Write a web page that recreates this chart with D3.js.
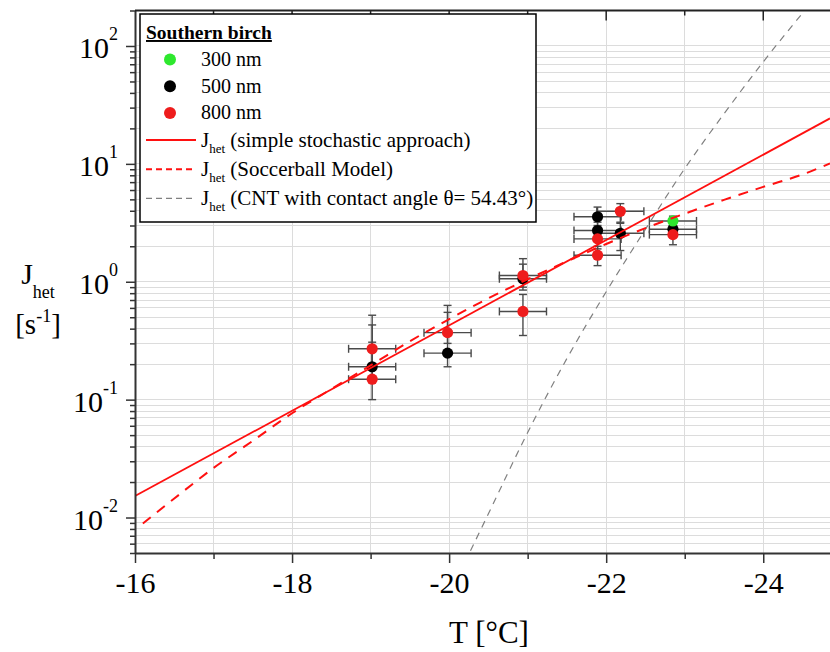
<!DOCTYPE html>
<html lang="en">
<head>
<meta charset="utf-8">
<style>
  body { margin: 0; background: #fff; }
  svg text { font-family: "Liberation Serif", "Times New Roman", serif; fill: #000; }
  .grid line { stroke: #dcdcdc; stroke-width: 1; shape-rendering: crispEdges; }
  .axis path, .axis line { stroke: #333; }
</style>
<script src="https://cdn.jsdelivr.net/npm/d3@7"></script>
</head>
<body>
<script>
// ---- data ----
const xTicks = [-16, -17, -18, -19, -20, -21, -22, -23, -24];
const yDecades = [0.01, 0.1, 1, 10, 100];
const yDecadeLabels = ["-2", "-1", "0", "1", "2"];

const tempErr = 0.3;

const t300 = [-22.85];
const j300 = [3.28];
const lo300 = [2.95];
const hi300 = [3.6];

const t500 = [-19.02, -19.98, -20.94, -21.89, -21.89, -22.18, -22.85];
const j500 = [0.19, 0.248, 1.06, 3.56, 2.72, 2.58, 2.79];
const lo500 = [0.15, 0.19, 0.85, 3.0, 2.3, 1.84, 2.4];
const hi500 = [0.43, 0.55, 1.41, 4.3, 3.2, 3.2, 3.2];

const t800 = [-19.02, -19.02, -19.98, -20.94, -20.94, -21.89, -21.89, -22.18, -22.85];
const j800 = [0.27, 0.149, 0.37, 1.13, 0.56, 2.31, 1.68, 3.96, 2.51];
const lo800 = [0.2, 0.1, 0.3, 0.9, 0.35, 1.9, 1.37, 3.13, 2.06];
const hi800 = [0.52, 0.307, 0.63, 1.57, 0.78, 2.7, 2.0, 4.6, 2.9];

// simple stochastic approach (straight in log space)
const tSimple = [-16, -24.85];
const jSimple = [0.0152, 24.3];

// Soccerball model
const tSoccer = [-16.1, -16.5, -17, -17.5, -18, -18.5, -19, -19.5, -20, -20.5, -21, -21.5, -22, -22.5, -23, -23.5, -24, -24.5, -24.85];
const jSoccer = [0.0089, 0.0145, 0.0263, 0.0447, 0.0767, 0.123, 0.195, 0.313, 0.481, 0.724, 1.05, 1.49, 2.09, 2.85, 3.78, 4.95, 6.38, 8.13, 10.07];

// CNT with contact angle
const tCnt = [-20.2, -20.5, -21, -21.5, -22, -22.5, -23, -23.5, -24, -24.6];
const jCnt = [0.00415, 0.01076, 0.0526, 0.2234, 0.822, 2.79, 9.12, 26.6, 73.3, 229];

// ---- layout ----
const w = 830, h = 652;
const padL = 135, padR = 830, padT = 10.5, padB = 553;
const red = "#ee1c1c", lineRed = "#ff1010", green = "#2ee82e";

const x = d3.scaleLinear().domain([-16, -24.85]).range([padL, padR]);
const y = d3.scaleLog().domain([0.005, 200]).range([padB, padT]);

const svg = d3.select("body").append("svg")
    .attr("width", w)
    .attr("height", h);

// grid
let yGrid = [];
[0.001, 0.01, 0.1, 1, 10, 100].forEach(d => {
    for (let k = 1; k <= 9; k++) {
        let v = +(k * d).toPrecision(3);
        if (v >= 0.005 && v <= 200) yGrid.push(v);
    }
});

let grid = svg.append("g").attr("class", "grid");
grid.selectAll(".gx")
    .data(xTicks.slice(1))
    .enter().append("line")
    .attr("x1", d => x(d)).attr("x2", d => x(d))
    .attr("y1", padT).attr("y2", padB);
grid.selectAll(".gy")
    .data(yGrid)
    .enter().append("line")
    .attr("x1", padL).attr("x2", padR)
    .attr("y1", d => y(d)).attr("y2", d => y(d));

svg.append("defs").append("clipPath").attr("id", "plot-clip")
  .append("rect")
    .attr("x", padL).attr("y", padT)
    .attr("width", padR - padL).attr("height", padB - padT);

// series table
const makePts = (t, j, lo, hi, color) => t.map((d, i) => ({t: d, j: j[i], lo: lo[i], hi: hi[i], color: color}));
const pts500 = makePts(t500, j500, lo500, hi500, "#000");
const pts300 = makePts(t300, j300, lo300, hi300, green);
const pts800 = makePts(t800, j800, lo800, hi800, red);
const allPts = pts500.concat(pts300, pts800);

// error bars
let eb = svg.append("g")
    .attr("stroke", "#4a4a4a")
    .attr("stroke-width", 1.4)
    .attr("fill", "none");
const cap = 4;
allPts.forEach(p => {
    let cx = x(p.t), cy = y(p.j);
    eb.append("line").attr("x1", cx).attr("x2", cx).attr("y1", y(p.lo)).attr("y2", y(p.hi));
    eb.append("line").attr("x1", cx - cap).attr("x2", cx + cap).attr("y1", y(p.lo)).attr("y2", y(p.lo));
    eb.append("line").attr("x1", cx - cap).attr("x2", cx + cap).attr("y1", y(p.hi)).attr("y2", y(p.hi));
    let xa = x(p.t + tempErr), xb = x(p.t - tempErr);
    eb.append("line").attr("x1", xa).attr("x2", xb).attr("y1", cy).attr("y2", cy);
    eb.append("line").attr("x1", xa).attr("x2", xa).attr("y1", cy - cap).attr("y2", cy + cap);
    eb.append("line").attr("x1", xb).attr("x2", xb).attr("y1", cy - cap).attr("y2", cy + cap);
});

// points
svg.append("g").selectAll("circle")
    .data(allPts)
    .enter().append("circle")
    .attr("cx", d => x(d.t))
    .attr("cy", d => y(d.j))
    .attr("r", 5.6)
    .attr("fill", d => d.color);

// model lines
let lineGen = d3.line()
    .x(d => x(d[0]))
    .y(d => y(d[1]))
    .curve(d3.curveMonotoneX);

let lines = svg.append("g").attr("clip-path", "url(#plot-clip)").attr("fill", "none");
lines.append("path")
    .attr("d", lineGen(tCnt.map((d, i) => [d, jCnt[i]])))
    .attr("stroke", "#808080")
    .attr("stroke-width", 1.2)
    .attr("stroke-dasharray", "7,6");
lines.append("path")
    .attr("d", lineGen(tSoccer.map((d, i) => [d, jSoccer[i]])))
    .attr("stroke", lineRed)
    .attr("stroke-width", 2)
    .attr("stroke-dasharray", "10,8");
lines.append("path")
    .attr("d", lineGen(tSimple.map((d, i) => [d, jSimple[i]])))
    .attr("stroke", lineRed)
    .attr("stroke-width", 1.8);

// axes
let xAxis = d3.axisBottom(x)
    .tickValues(xTicks)
    .tickSizeOuter(0)
    .tickFormat(d => d % 2 === 0 ? String(d) : "");

let gx = svg.append("g")
    .attr("class", "axis")
    .attr("transform", "translate(0," + padB + ")")
    .call(xAxis);
gx.select(".domain").attr("stroke-width", 2);
gx.selectAll(".tick line")
    .attr("stroke-width", 1.5)
    .attr("y2", d => d % 2 === 0 ? 10 : 6);
gx.selectAll(".tick text")
    .attr("y", 40)
    .attr("dy", null)
    .attr("font-size", "30px")
    .attr("font-family", null);

let yAxis = d3.axisLeft(y)
    .tickValues(yGrid)
    .tickSizeOuter(0)
    .tickFormat("");

let gy = svg.append("g")
    .attr("class", "axis")
    .attr("transform", "translate(" + padL + ",0)")
    .call(yAxis);
gy.select(".domain").attr("stroke-width", 2);
gy.selectAll(".tick line")
    .attr("stroke-width", 1.5)
    .attr("x2", d => yDecades.some(v => Math.abs(v - d) < 1e-9) ? -9 : -5);

// decade labels 10^n
let yLab = svg.append("g").selectAll("text")
    .data(yDecades)
    .enter().append("text")
    .attr("x", padL - 17)
    .attr("y", d => y(d) + 12.5)
    .attr("text-anchor", "end")
    .attr("font-size", "30px");
yLab.append("tspan").text("10");
yLab.append("tspan")
    .attr("dy", -18)
    .attr("font-size", "18px")
    .text((d, i) => yDecadeLabels[i]);

// top border with inward ticks
svg.append("line")
    .attr("x1", padL).attr("x2", padR)
    .attr("y1", padT).attr("y2", padT)
    .attr("stroke", "#222").attr("stroke-width", 2);
svg.append("g").selectAll("line")
    .data(xTicks.slice(1))
    .enter().append("line")
    .attr("x1", d => x(d)).attr("x2", d => x(d))
    .attr("y1", padT)
    .attr("y2", d => padT + (d % 2 === 0 ? 10 : 5))
    .attr("stroke", "#222").attr("stroke-width", 1.5);

// axis titles
svg.append("text")
    .attr("x", 489).attr("y", 643)
    .attr("text-anchor", "middle")
    .attr("font-size", "31px")
    .text("T [°C]");

let yt1 = svg.append("text")
    .attr("x", 38).attr("y", 284)
    .attr("text-anchor", "middle")
    .attr("font-size", "30px");
yt1.append("tspan").text("J");
yt1.append("tspan").attr("dy", 14).attr("font-size", "18px").text("het");

let yt2 = svg.append("text")
    .attr("x", 38).attr("y", 334)
    .attr("text-anchor", "middle")
    .attr("font-size", "29px");
yt2.append("tspan").text("[s");
yt2.append("tspan").attr("dy", -12).attr("font-size", "18px").text("-1");
yt2.append("tspan").attr("dy", 12).text("]");

// legend
const legendTitle = "Southern birch";
const sizeLabels = ["300 nm", "500 nm", "800 nm"];
const sizeColors = [green, "#000", red];
const modelLabels = ["(simple stochastic approach)", "(Soccerball Model)", "(CNT with contact angle θ= 54.43°)"];

let lg = svg.append("g");
lg.append("rect")
    .attr("x", 140).attr("y", 14)
    .attr("width", 396).attr("height", 208)
    .attr("fill", "#fff")
    .attr("stroke", "#000")
    .attr("stroke-width", 1.5);
lg.append("text")
    .attr("x", 146).attr("y", 39)
    .attr("font-size", "19.5px")
    .attr("font-weight", "bold")
    .attr("text-decoration", "underline")
    .text(legendTitle);

sizeLabels.forEach((s, i) => {
    let yy = 59.5 + i * 26.7;
    lg.append("circle").attr("cx", 170).attr("cy", yy).attr("r", 6).attr("fill", sizeColors[i]);
    lg.append("text").attr("x", 201).attr("y", yy + 6.5).attr("font-size", "20px").text(s);
});

const modelStroke = [lineRed, lineRed, "#808080"];
const modelDash = [null, "6,4", "6,4"];
const modelWidth = [1.8, 2, 1.3];
modelLabels.forEach((s, i) => {
    let yy = 140 + i * 29.2;
    lg.append("line")
        .attr("x1", 146).attr("x2", 196)
        .attr("y1", yy).attr("y2", yy)
        .attr("stroke", modelStroke[i])
        .attr("stroke-width", modelWidth[i])
        .attr("stroke-dasharray", modelDash[i]);
    let t = lg.append("text").attr("x", 201).attr("y", yy + 7).attr("font-size", "21px");
    t.append("tspan").text("J");
    t.append("tspan").attr("dy", 6).attr("font-size", "13px").text("het");
    t.append("tspan").attr("dy", -6).text(" " + s);
});
</script>
</body>
</html>
